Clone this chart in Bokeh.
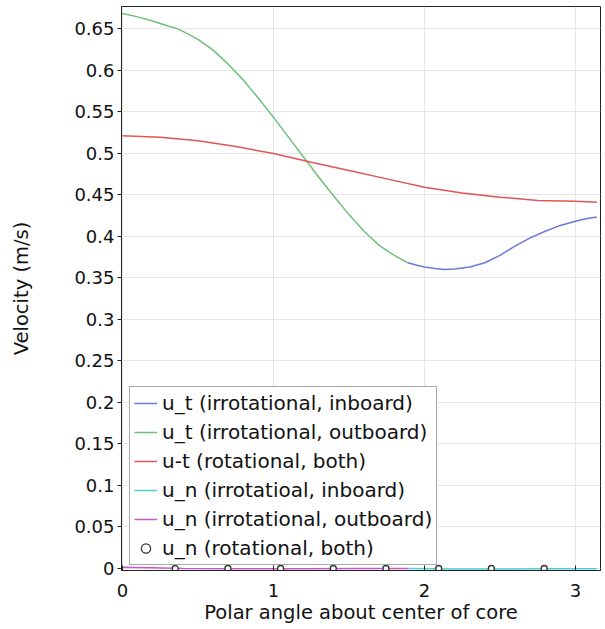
import numpy as np
from bokeh.plotting import figure
from bokeh.models import Range1d, FixedTicker, Legend, LegendItem
from bokeh.embed import file_html
from bokeh.resources import INLINE

# u_t irrotational, outboard (green)
x_out = [0.0, 0.1, 0.2, 0.3, 0.344, 0.4, 0.5, 0.6, 0.7, 0.8, 0.9, 1.0, 1.1, 1.2, 1.3, 1.4, 1.5, 1.6, 1.7, 1.8, 1.89]
ut_out = [0.668, 0.664, 0.659, 0.653, 0.651, 0.6465, 0.637, 0.624, 0.607, 0.588, 0.566, 0.543, 0.519, 0.495, 0.471, 0.448, 0.426, 0.406, 0.389, 0.377, 0.368]

# u_t irrotational, inboard (blue)
x_in = [1.89, 1.95, 2.0, 2.07, 2.13, 2.2, 2.3, 2.4, 2.5, 2.6, 2.7, 2.8, 2.9, 3.0, 3.07, 3.1416]
ut_in = [0.368, 0.365, 0.363, 0.361, 0.360, 0.3605, 0.363, 0.368, 0.377, 0.388, 0.398, 0.406, 0.413, 0.418, 0.421, 0.423]

# u-t rotational, both (red)
x_rot = [0.0, 0.25, 0.5, 0.75, 1.0, 1.25, 1.5, 1.75, 2.0, 2.25, 2.5, 2.75, 3.0, 3.1416]
ut_rot = [0.521, 0.519, 0.515, 0.508, 0.4995, 0.489, 0.479, 0.469, 0.459, 0.452, 0.447, 0.443, 0.442, 0.441]

# u_n irrotational, outboard (magenta)
x_nout = [0.0, 0.2, 0.4, 0.8, 1.2, 1.6, 1.89]
un_out = [0.0015, 0.0008, 0.0, -0.0004, -0.0004, 0.0, 0.0]

# u_n irrotational, inboard (cyan)
x_nin = [1.89, 2.2, 2.5, 2.8, 3.1416]
un_in = [0.0, -0.0005, -0.0005, -0.0003, -0.0003]

# u_n rotational, both (markers)
x_nrot = [0.349, 0.698, 1.047, 1.396, 1.745, 2.094, 2.443, 2.793]
un_rot = [0.0, 0.0, 0.0, 0.0, 0.0, 0.0, 0.0, 0.0]

y_ticks = [0, 0.05, 0.1, 0.15, 0.2, 0.25, 0.3, 0.35, 0.4, 0.45, 0.5, 0.55, 0.6, 0.65]
y_tick_labels = ["0", "0.05", "0.1", "0.15", "0.2", "0.25", "0.3", "0.35", "0.4", "0.45", "0.5", "0.55", "0.6", "0.65"]
x_ticks = [0, 1, 2, 3]

FONT = "DejaVu Sans"

p = figure(width=602, height=627, output_backend="svg", toolbar_location=None,
           x_range=Range1d(-0.007, 3.166), y_range=Range1d(-0.0024, 0.6765),
           min_border_left=121, min_border_right=2, min_border_top=6, min_border_bottom=57)

p.outline_line_color = "#222222"
p.outline_line_width = 1
p.background_fill_color = "white"
p.border_fill_color = "white"

p.xgrid.grid_line_color = "#e6e6e6"
p.ygrid.grid_line_color = "#e6e6e6"

p.xaxis.ticker = FixedTicker(ticks=x_ticks)
p.yaxis.ticker = FixedTicker(ticks=y_ticks)
p.yaxis.major_label_overrides = {t: s for t, s in zip(y_ticks, y_tick_labels)}
p.xaxis.minor_tick_line_color = None
p.yaxis.minor_tick_line_color = None

for ax in (p.xaxis, p.yaxis):
    ax.major_label_text_font = FONT
    ax.major_label_text_font_size = "18px"
    ax.major_label_text_color = "#111111"
    ax.axis_label_text_font = FONT
    ax.axis_label_text_font_size = "19.5px"
    ax.axis_label_text_font_style = "normal"
    ax.axis_label_text_color = "#111111"
    ax.axis_line_color = "#222222"
    ax.major_tick_line_color = "#222222"

p.yaxis.major_tick_out = 4
p.yaxis.major_tick_in = 0
p.yaxis.major_label_standoff = 3
p.yaxis.axis_label = "Velocity (m/s)"
p.yaxis.axis_label_standoff = 38

p.xaxis.major_tick_out = 0
p.xaxis.major_tick_in = 5
p.xaxis.major_label_standoff = 13
p.xaxis.axis_label = "Polar angle about center of core"
p.xaxis.axis_label_standoff = 1

lw = 1.5
r_green = p.line(x_out, ut_out, line_color="#6cc07a", line_width=lw)
r_blue = p.line(x_in, ut_in, line_color="#6a78d8", line_width=lw)
r_red = p.line(x_rot, ut_rot, line_color="#e05555", line_width=lw)
r_mag = p.line(x_nout, un_out, line_color="#c45ac4", line_width=lw)
r_cyan = p.line(x_nin, un_in, line_color="#4fcfd4", line_width=lw)
r_circ = p.scatter(x_nrot, un_rot, marker="circle", size=6, line_color="#333333",
                   fill_color="white", line_width=1.3)

legend = Legend(items=[
    LegendItem(label="u_t (irrotational, inboard)", renderers=[r_blue]),
    LegendItem(label="u_t (irrotational, outboard)", renderers=[r_green]),
    LegendItem(label="u-t (rotational, both)", renderers=[r_red]),
    LegendItem(label="u_n (irrotatioal, inboard)", renderers=[r_cyan]),
    LegendItem(label="u_n (irrotational, outboard)", renderers=[r_mag]),
    LegendItem(label="u_n (rotational, both)", renderers=[r_circ]),
], location=(8, 5))
legend.label_text_font = FONT
legend.label_text_font_size = "20px"
legend.label_text_color = "#111111"
legend.glyph_width = 23
legend.glyph_height = 24
legend.label_height = 24
legend.label_standoff = 5
legend.spacing = 5
legend.padding = 4
legend.margin = 0
legend.border_line_color = "#555555"
legend.border_line_width = 1
legend.background_fill_color = "white"
legend.background_fill_alpha = 1.0
p.add_layout(legend, "center")

open("out.html", "w").write(file_html(p, INLINE))
